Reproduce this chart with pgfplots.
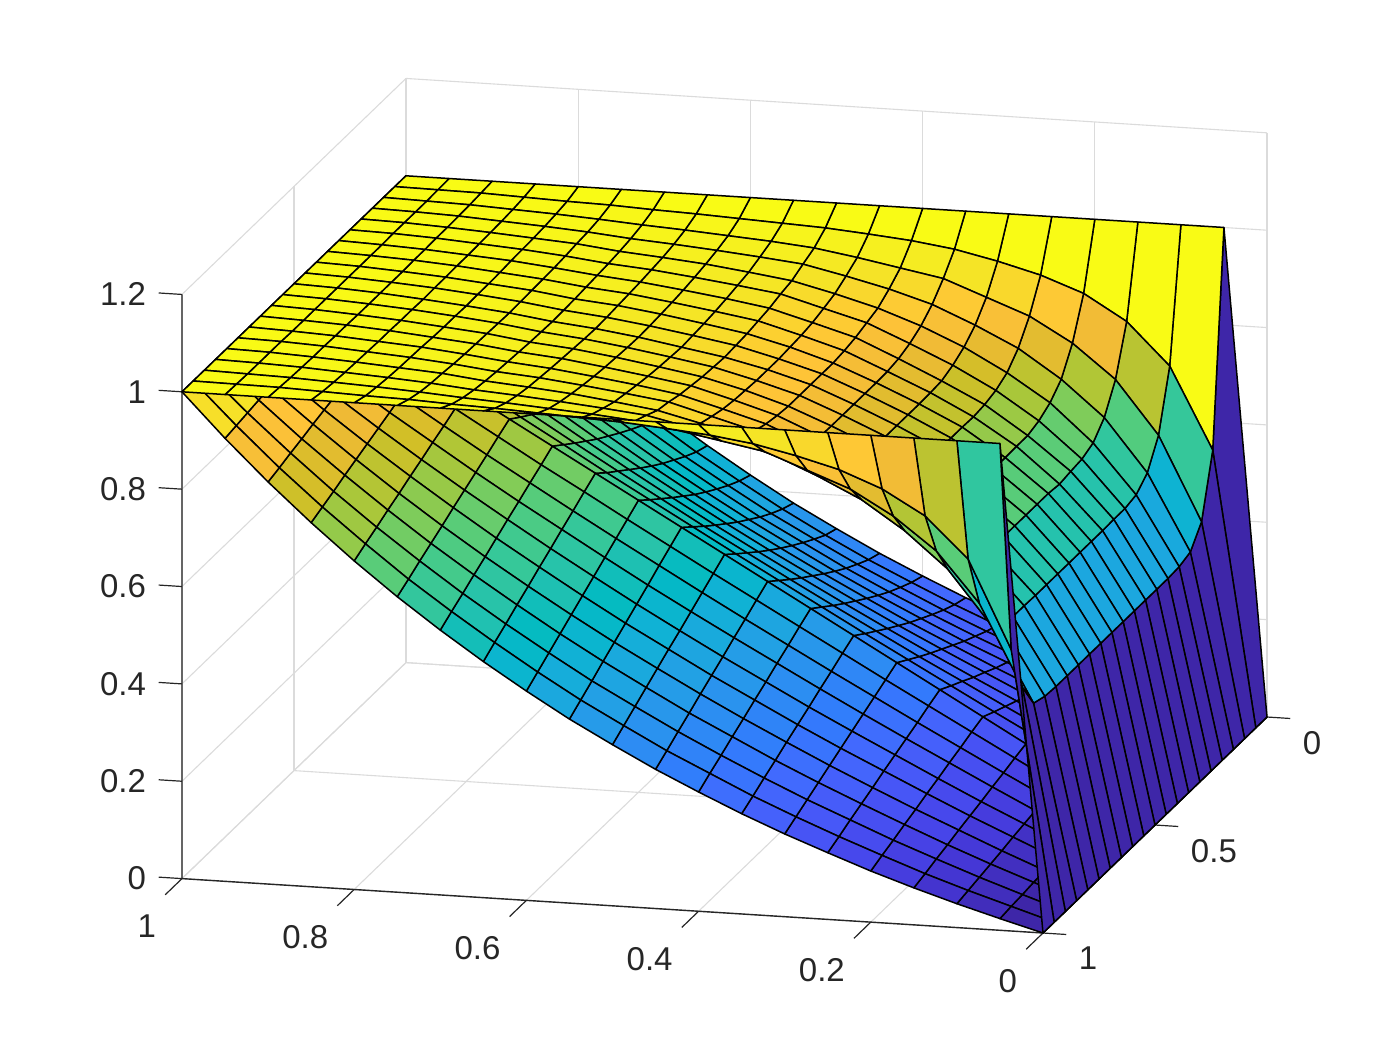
\documentclass[border=0pt]{standalone}
\usepackage{pgfplots}
\usepackage{fontspec}
\setmainfont{Liberation Sans}
\pgfplotsset{compat=1.18}
\definecolor{ax}{rgb}{0.15,0.15,0.15}
\pgfplotsset{colormap={parulam}{
rgb(1pt)=(.2422,.1504,.6603) rgb(5pt)=(.2706,.2147,.8364) rgb(8pt)=(.2803,.2782,.9221) rgb(11pt)=(.2795,.3447,.9717) rgb(14pt)=(.2602,.4123,.9952) rgb(17pt)=(.1963,.4847,.9892) rgb(20pt)=(.1764,.5499,.9520) rgb(24pt)=(.1380,.6276,.8973) rgb(28pt)=(.0689,.6948,.8394) rgb(31pt)=(.0067,.7312,.7660) rgb(34pt)=(.1408,.7584,.6842) rgb(37pt)=(.2161,.7843,.5923) rgb(40pt)=(.3406,.8008,.4789) rgb(43pt)=(.5044,.7993,.3480) rgb(46pt)=(.6720,.7793,.2227) rgb(49pt)=(.8203,.7498,.1535) rgb(52pt)=(.9393,.7288,.2100) rgb(55pt)=(.9970,.7659,.2199) rgb(57pt)=(.9892,.8164,.1884) rgb(59pt)=(.9610,.8890,.1537) rgb(61pt)=(.9628,.9373,.1265) rgb(64pt)=(.9769,.9839,.0805)}}
\begin{document}
\begin{tikzpicture}
\path[use as bounding box] (-633.5pt,-166.5pt) rectangle (66.5pt,358.5pt);
\begin{axis}[at={(0,0)},anchor=origin,clip=false,
x={(-430.5pt,27.2pt)},y={(-112pt,-108pt)},z={(0pt,243.4pt)},
xmin=0,xmax=1,ymin=0,ymax=1,zmin=0,zmax=1.2,
xtick={0,.2,.4,.6,.8,1},ytick={0,.5,1},ztick={0,.2,.4,.6,.8,1,1.2},
xticklabels={0,0.2,0.4,0.6,0.8,1},yticklabels={0,0.5,1},zticklabels={0,0.2,0.4,0.6,0.8,1,1.2},
grid=major,grid style={black!14,line width=.55pt},
axis line style={draw=none},
tick style={draw=none},major tick length=0pt,
ticklabel style={font=\fontsize{16.5pt}{18pt}\selectfont,text=ax,inner sep=0pt,outer sep=0pt},
xticklabel style={anchor=north east,xshift=-13pt,yshift=-18pt},
yticklabel style={anchor=north west,xshift=18pt,yshift=-7pt},
zticklabel style={anchor=east,xshift=-18pt},
point meta min=0,point meta max=1,colormap name=parulam,
every axis plot/.append style={line width=.75pt,line join=round},
]
\addplot3[ax,line width=.7pt] coordinates {(1,1,1.2)(1,1,0)(0,1,0)(0,0,0)};
\draw[ax,line width=.6pt] (axis cs:1,1,0)--(axis cs:1,1.075,0) (axis cs:.8,1,0)--(axis cs:.8,1.075,0) (axis cs:.6,1,0)--(axis cs:.6,1.075,0) (axis cs:.4,1,0)--(axis cs:.4,1.075,0) (axis cs:.2,1,0)--(axis cs:.2,1.075,0) (axis cs:0,1,0)--(axis cs:0,1.075,0);
\draw[ax,line width=.6pt] (axis cs:0,0,0)--(axis cs:-.027,0,0) (axis cs:0,.5,0)--(axis cs:-.027,.5,0) (axis cs:0,1,0)--(axis cs:-.027,1,0);
\draw[ax,line width=.6pt] (axis cs:1,1,0)--(axis cs:1.027,1,0) (axis cs:1,1,.2)--(axis cs:1.027,1,.2) (axis cs:1,1,.4)--(axis cs:1.027,1,.4) (axis cs:1,1,.6)--(axis cs:1.027,1,.6) (axis cs:1,1,.8)--(axis cs:1.027,1,.8) (axis cs:1,1,1)--(axis cs:1.027,1,1) (axis cs:1,1,1.2)--(axis cs:1.027,1,1.2);
% lower sheet, rows y=0 to y=1
\addplot3[surf,shader=flat corner,draw=black,z buffer=none,mesh/rows=21,mesh/cols=21] coordinates {
(0,0,0)(.05,0,.024)(.1,0,.049)(.15,0,.076)(.2,0,.105)(.25,0,.137)(.3,0,.17)(.35,0,.206)(.4,0,.245)(.45,0,.286)(.5,0,.331)(.55,0,.378)(.6,0,.43)(.65,0,.485)(.7,0,.544)(.75,0,.607)(.8,0,.675)(.85,0,.748)(.9,0,.826)(.95,0,.91)(1,0,1)
(0,.05,0)(.05,.05,.025)(.1,.05,.052)(.15,.05,.08)(.2,.05,.11)(.25,.05,.143)(.3,.05,.177)(.35,.05,.214)(.4,.05,.254)(.45,.05,.295)(.5,.05,.34)(.55,.05,.388)(.6,.05,.44)(.65,.05,.494)(.7,.05,.553)(.75,.05,.615)(.8,.05,.682)(.85,.05,.754)(.9,.05,.83)(.95,.05,.912)(1,.05,1)
(0,.1,0)(.05,.1,.027)(.1,.1,.056)(.15,.1,.086)(.2,.1,.118)(.25,.1,.152)(.3,.1,.187)(.35,.1,.225)(.4,.1,.266)(.45,.1,.308)(.5,.1,.354)(.55,.1,.401)(.6,.1,.453)(.65,.1,.507)(.7,.1,.565)(.75,.1,.626)(.8,.1,.692)(.85,.1,.762)(.9,.1,.836)(.95,.1,.915)(1,.1,1)
(0,.15,0)(.05,.15,.03)(.1,.15,.06)(.15,.15,.092)(.2,.15,.126)(.25,.15,.162)(.3,.15,.199)(.35,.15,.238)(.4,.15,.279)(.45,.15,.322)(.5,.15,.369)(.55,.15,.416)(.6,.15,.468)(.65,.15,.522)(.7,.15,.579)(.75,.15,.639)(.8,.15,.703)(.85,.15,.771)(.9,.15,.842)(.95,.15,.919)(1,.15,1)
(0,.2,0)(.05,.2,.032)(.1,.2,.065)(.15,.2,.1)(.2,.2,.135)(.25,.2,.173)(.3,.2,.211)(.35,.2,.252)(.4,.2,.294)(.45,.2,.338)(.5,.2,.385)(.55,.2,.433)(.6,.2,.484)(.65,.2,.537)(.7,.2,.594)(.75,.2,.652)(.8,.2,.715)(.85,.2,.78)(.9,.2,.85)(.95,.2,.923)(1,.2,1)
(0,.25,0)(.05,.25,.035)(.1,.25,.07)(.15,.25,.107)(.2,.25,.145)(.25,.25,.184)(.3,.25,.225)(.35,.25,.266)(.4,.25,.31)(.45,.25,.355)(.5,.25,.402)(.55,.25,.45)(.6,.25,.501)(.65,.25,.554)(.7,.25,.61)(.75,.25,.667)(.8,.25,.728)(.85,.25,.791)(.9,.25,.857)(.95,.25,.927)(1,.25,1)
(0,.3,0)(.05,.3,.038)(.1,.3,.076)(.15,.3,.115)(.2,.3,.155)(.25,.3,.197)(.3,.3,.239)(.35,.3,.282)(.4,.3,.327)(.45,.3,.373)(.5,.3,.42)(.55,.3,.469)(.6,.3,.52)(.65,.3,.572)(.7,.3,.626)(.75,.3,.683)(.8,.3,.741)(.85,.3,.802)(.9,.3,.865)(.95,.3,.931)(1,.3,1)
(0,.35,0)(.05,.35,.041)(.1,.35,.082)(.15,.35,.123)(.2,.35,.166)(.25,.35,.209)(.3,.35,.253)(.35,.35,.298)(.4,.35,.344)(.45,.35,.391)(.5,.35,.439)(.55,.35,.488)(.6,.35,.539)(.65,.35,.591)(.7,.35,.644)(.75,.35,.699)(.8,.35,.755)(.85,.35,.813)(.9,.35,.873)(.95,.35,.936)(1,.35,1)
(0,.4,0)(.05,.4,.044)(.1,.4,.088)(.15,.4,.132)(.2,.4,.177)(.25,.4,.223)(.3,.4,.268)(.35,.4,.315)(.4,.4,.362)(.45,.4,.41)(.5,.4,.459)(.55,.4,.508)(.6,.4,.559)(.65,.4,.61)(.7,.4,.662)(.75,.4,.715)(.8,.4,.77)(.85,.4,.825)(.9,.4,.882)(.95,.4,.94)(1,.4,1)
(0,.45,0)(.05,.45,.047)(.1,.45,.094)(.15,.45,.141)(.2,.45,.188)(.25,.45,.236)(.3,.45,.284)(.35,.45,.332)(.4,.45,.381)(.45,.45,.43)(.5,.45,.479)(.55,.45,.529)(.6,.45,.579)(.65,.45,.629)(.7,.45,.681)(.75,.45,.732)(.8,.45,.785)(.85,.45,.837)(.9,.45,.891)(.95,.45,.945)(1,.45,1)
(0,.5,0)(.05,.5,.05)(.1,.5,.1)(.15,.5,.15)(.2,.5,.2)(.25,.5,.25)(.3,.5,.3)(.35,.5,.35)(.4,.5,.4)(.45,.5,.45)(.5,.5,.5)(.55,.5,.55)(.6,.5,.6)(.65,.5,.65)(.7,.5,.7)(.75,.5,.75)(.8,.5,.8)(.85,.5,.85)(.9,.5,.9)(.95,.5,.95)(1,.5,1)
(0,.55,0)(.05,.55,.047)(.1,.55,.095)(.15,.55,.143)(.2,.55,.191)(.25,.55,.239)(.3,.55,.287)(.35,.55,.336)(.4,.55,.385)(.45,.55,.434)(.5,.55,.483)(.55,.55,.533)(.6,.55,.583)(.65,.55,.634)(.7,.55,.684)(.75,.55,.736)(.8,.55,.788)(.85,.55,.84)(.9,.55,.893)(.95,.55,.946)(1,.55,1)
(0,.6,0)(.05,.6,.045)(.1,.6,.09)(.15,.6,.135)(.2,.6,.181)(.25,.6,.227)(.3,.6,.274)(.35,.6,.321)(.4,.6,.369)(.45,.6,.417)(.5,.6,.466)(.55,.6,.516)(.6,.6,.566)(.65,.6,.617)(.7,.6,.669)(.75,.6,.721)(.8,.6,.775)(.85,.6,.83)(.9,.6,.885)(.95,.6,.942)(1,.6,1)
(0,.65,0)(.05,.65,.042)(.1,.65,.085)(.15,.65,.128)(.2,.65,.172)(.25,.65,.216)(.3,.65,.261)(.35,.65,.307)(.4,.65,.354)(.45,.65,.401)(.5,.65,.449)(.55,.65,.498)(.6,.65,.549)(.65,.65,.601)(.7,.65,.653)(.75,.65,.707)(.8,.65,.763)(.85,.65,.819)(.9,.65,.878)(.95,.65,.938)(1,.65,1)
(0,.7,0)(.05,.7,.04)(.1,.7,.08)(.15,.7,.12)(.2,.7,.162)(.25,.7,.205)(.3,.7,.248)(.35,.7,.292)(.4,.7,.338)(.45,.7,.384)(.5,.7,.432)(.55,.7,.481)(.6,.7,.532)(.65,.7,.584)(.7,.7,.638)(.75,.7,.693)(.8,.7,.75)(.85,.7,.809)(.9,.7,.87)(.95,.7,.934)(1,.7,1)
(0,.75,0)(.05,.75,.037)(.1,.75,.075)(.15,.75,.113)(.2,.75,.153)(.25,.75,.194)(.3,.75,.235)(.35,.75,.278)(.4,.75,.323)(.45,.75,.368)(.5,.75,.416)(.55,.75,.464)(.6,.75,.515)(.65,.75,.568)(.7,.75,.622)(.75,.75,.679)(.8,.75,.738)(.85,.75,.799)(.9,.75,.863)(.95,.75,.93)(1,.75,1)
(0,.8,0)(.05,.8,.034)(.1,.8,.069)(.15,.8,.106)(.2,.8,.143)(.25,.8,.182)(.3,.8,.222)(.35,.8,.264)(.4,.8,.307)(.45,.8,.352)(.5,.8,.399)(.55,.8,.447)(.6,.8,.498)(.65,.8,.551)(.7,.8,.606)(.75,.8,.664)(.8,.8,.725)(.85,.8,.789)(.9,.8,.856)(.95,.8,.926)(1,.8,1)
(0,.85,0)(.05,.85,.032)(.1,.85,.064)(.15,.85,.098)(.2,.85,.134)(.25,.85,.171)(.3,.85,.209)(.35,.85,.249)(.4,.85,.292)(.45,.85,.335)(.5,.85,.382)(.55,.85,.43)(.6,.85,.481)(.65,.85,.535)(.7,.85,.591)(.75,.85,.65)(.8,.85,.713)(.85,.85,.779)(.9,.85,.848)(.95,.85,.922)(1,.85,1)
(0,.9,0)(.05,.9,.029)(.1,.9,.059)(.15,.9,.091)(.2,.9,.124)(.25,.9,.16)(.3,.9,.196)(.35,.9,.235)(.4,.9,.276)(.45,.9,.319)(.5,.9,.365)(.55,.9,.412)(.6,.9,.464)(.65,.9,.518)(.7,.9,.575)(.75,.9,.636)(.8,.9,.7)(.85,.9,.768)(.9,.9,.841)(.95,.9,.918)(1,.9,1)
(0,.95,0)(.05,.95,.027)(.1,.95,.054)(.15,.95,.083)(.2,.95,.115)(.25,.95,.148)(.3,.95,.183)(.35,.95,.22)(.4,.95,.261)(.45,.95,.302)(.5,.95,.348)(.55,.95,.395)(.6,.95,.447)(.65,.95,.502)(.7,.95,.56)(.75,.95,.621)(.8,.95,.688)(.85,.95,.758)(.9,.95,.833)(.95,.95,.914)(1,.95,1)
(0,1,0)(.05,1,.024)(.1,1,.049)(.15,1,.076)(.2,1,.105)(.25,1,.137)(.3,1,.17)(.35,1,.206)(.4,1,.245)(.45,1,.286)(.5,1,.331)(.55,1,.378)(.6,1,.43)(.65,1,.485)(.7,1,.544)(.75,1,.607)(.8,1,.675)(.85,1,.748)(.9,1,.826)(.95,1,.91)(1,1,1)
};
% upper sheet, rows y=0 to y=1
\addplot3[surf,shader=flat corner,draw=black,z buffer=none,mesh/rows=21,mesh/cols=21] coordinates {
(0,0,0)(.05,0,1)(.1,0,1)(.15,0,1)(.2,0,1)(.25,0,1)(.3,0,1)(.35,0,1)(.4,0,1)(.45,0,1)(.5,0,1)(.55,0,1)(.6,0,1)(.65,0,1)(.7,0,1)(.75,0,1)(.8,0,1)(.85,0,1)(.9,0,1)(.95,0,1)(1,0,1)
(0,.05,0)(.05,.05,.565)(.1,.05,.732)(.15,.05,.818)(.2,.05,.87)(.25,.05,.902)(.3,.05,.925)(.35,.05,.944)(.4,.05,.956)(.45,.05,.964)(.5,.05,.971)(.55,.05,.975)(.6,.05,.979)(.65,.05,.983)(.7,.05,.986)(.75,.05,.99)(.8,.05,.992)(.85,.05,.995)(.9,.05,.998)(.95,.05,.999)(1,.05,1)
(0,.1,0)(.05,.1,.44)(.1,.1,.612)(.15,.1,.721)(.2,.1,.79)(.25,.1,.84)(.3,.1,.873)(.35,.1,.906)(.4,.1,.922)(.45,.1,.938)(.5,.1,.952)(.55,.1,.96)(.6,.1,.966)(.65,.1,.972)(.7,.1,.977)(.75,.1,.983)(.8,.1,.988)(.85,.1,.992)(.9,.1,.996)(.95,.1,.998)(1,.1,1)
(0,.15,0)(.05,.15,.4)(.1,.15,.557)(.15,.15,.665)(.2,.15,.738)(.25,.15,.796)(.3,.15,.838)(.35,.15,.875)(.4,.15,.901)(.45,.15,.922)(.5,.15,.941)(.55,.15,.95)(.6,.15,.958)(.65,.15,.965)(.7,.15,.971)(.75,.15,.979)(.8,.15,.985)(.85,.15,.99)(.9,.15,.995)(.95,.15,.998)(1,.15,1)
(0,.2,0)(.05,.2,.392)(.1,.2,.534)(.15,.2,.635)(.2,.2,.712)(.25,.2,.768)(.3,.2,.815)(.35,.2,.853)(.4,.2,.884)(.45,.2,.908)(.5,.2,.929)(.55,.2,.941)(.6,.2,.952)(.65,.2,.96)(.7,.2,.967)(.75,.2,.977)(.8,.2,.983)(.85,.2,.989)(.9,.2,.994)(.95,.2,.998)(1,.2,1)
(0,.25,0)(.05,.25,.39)(.1,.25,.528)(.15,.25,.624)(.2,.25,.697)(.25,.25,.754)(.3,.25,.8)(.35,.25,.839)(.4,.25,.876)(.45,.25,.9)(.5,.25,.924)(.55,.25,.936)(.6,.25,.947)(.65,.25,.957)(.7,.25,.964)(.75,.25,.974)(.8,.25,.982)(.85,.25,.988)(.9,.25,.994)(.95,.25,.998)(1,.25,1)
(0,.3,0)(.05,.3,.39)(.1,.3,.528)(.15,.3,.621)(.2,.3,.689)(.25,.3,.747)(.3,.3,.79)(.35,.3,.83)(.4,.3,.868)(.45,.3,.893)(.5,.3,.917)(.55,.3,.931)(.6,.3,.943)(.65,.3,.954)(.7,.3,.962)(.75,.3,.972)(.8,.3,.981)(.85,.3,.987)(.9,.3,.993)(.95,.3,.997)(1,.3,1)
(0,.35,0)(.05,.35,.39)(.1,.35,.527)(.15,.35,.617)(.2,.35,.689)(.25,.35,.744)(.3,.35,.788)(.35,.35,.826)(.4,.35,.863)(.45,.35,.889)(.5,.35,.913)(.55,.35,.927)(.6,.35,.94)(.65,.35,.952)(.7,.35,.96)(.75,.35,.971)(.8,.35,.979)(.85,.35,.987)(.9,.35,.993)(.95,.35,.997)(1,.35,1)
(0,.4,0)(.05,.4,.39)(.1,.4,.527)(.15,.4,.62)(.2,.4,.688)(.25,.4,.745)(.3,.4,.787)(.35,.4,.825)(.4,.4,.86)(.45,.4,.887)(.5,.4,.909)(.55,.4,.924)(.6,.4,.938)(.65,.4,.95)(.7,.4,.958)(.75,.4,.97)(.8,.4,.978)(.85,.4,.986)(.9,.4,.992)(.95,.4,.997)(1,.4,1)
(0,.45,0)(.05,.45,.39)(.1,.45,.527)(.15,.45,.62)(.2,.45,.688)(.25,.45,.745)(.3,.45,.787)(.35,.45,.825)(.4,.45,.86)(.45,.45,.885)(.5,.45,.907)(.55,.45,.922)(.6,.45,.936)(.65,.45,.948)(.7,.45,.957)(.75,.45,.969)(.8,.45,.978)(.85,.45,.986)(.9,.45,.992)(.95,.45,.997)(1,.45,1)
(0,.5,0)(.05,.5,.39)(.1,.5,.527)(.15,.5,.62)(.2,.5,.688)(.25,.5,.745)(.3,.5,.787)(.35,.5,.825)(.4,.5,.86)(.45,.5,.885)(.5,.5,.905)(.55,.5,.92)(.6,.5,.935)(.65,.5,.947)(.7,.5,.956)(.75,.5,.968)(.8,.5,.977)(.85,.5,.985)(.9,.5,.992)(.95,.5,.997)(1,.5,1)
(0,.55,0)(.05,.55,.39)(.1,.55,.527)(.15,.55,.62)(.2,.55,.688)(.25,.55,.745)(.3,.55,.787)(.35,.55,.825)(.4,.55,.86)(.45,.55,.885)(.5,.55,.907)(.55,.55,.922)(.6,.55,.936)(.65,.55,.948)(.7,.55,.957)(.75,.55,.969)(.8,.55,.978)(.85,.55,.986)(.9,.55,.992)(.95,.55,.997)(1,.55,1)
(0,.6,0)(.05,.6,.39)(.1,.6,.527)(.15,.6,.62)(.2,.6,.688)(.25,.6,.745)(.3,.6,.787)(.35,.6,.825)(.4,.6,.86)(.45,.6,.887)(.5,.6,.909)(.55,.6,.924)(.6,.6,.938)(.65,.6,.95)(.7,.6,.958)(.75,.6,.97)(.8,.6,.978)(.85,.6,.986)(.9,.6,.992)(.95,.6,.997)(1,.6,1)
(0,.65,0)(.05,.65,.39)(.1,.65,.527)(.15,.65,.617)(.2,.65,.689)(.25,.65,.744)(.3,.65,.788)(.35,.65,.826)(.4,.65,.863)(.45,.65,.889)(.5,.65,.913)(.55,.65,.927)(.6,.65,.94)(.65,.65,.952)(.7,.65,.96)(.75,.65,.971)(.8,.65,.979)(.85,.65,.987)(.9,.65,.993)(.95,.65,.997)(1,.65,1)
(0,.7,0)(.05,.7,.39)(.1,.7,.528)(.15,.7,.621)(.2,.7,.689)(.25,.7,.747)(.3,.7,.79)(.35,.7,.83)(.4,.7,.868)(.45,.7,.893)(.5,.7,.917)(.55,.7,.931)(.6,.7,.943)(.65,.7,.954)(.7,.7,.962)(.75,.7,.972)(.8,.7,.981)(.85,.7,.987)(.9,.7,.993)(.95,.7,.997)(1,.7,1)
(0,.75,0)(.05,.75,.39)(.1,.75,.528)(.15,.75,.624)(.2,.75,.697)(.25,.75,.754)(.3,.75,.8)(.35,.75,.839)(.4,.75,.876)(.45,.75,.9)(.5,.75,.924)(.55,.75,.936)(.6,.75,.947)(.65,.75,.957)(.7,.75,.964)(.75,.75,.974)(.8,.75,.982)(.85,.75,.988)(.9,.75,.994)(.95,.75,.998)(1,.75,1)
(0,.8,0)(.05,.8,.392)(.1,.8,.534)(.15,.8,.635)(.2,.8,.712)(.25,.8,.768)(.3,.8,.815)(.35,.8,.853)(.4,.8,.884)(.45,.8,.908)(.5,.8,.929)(.55,.8,.941)(.6,.8,.952)(.65,.8,.96)(.7,.8,.967)(.75,.8,.977)(.8,.8,.983)(.85,.8,.989)(.9,.8,.994)(.95,.8,.998)(1,.8,1)
(0,.85,0)(.05,.85,.4)(.1,.85,.557)(.15,.85,.665)(.2,.85,.738)(.25,.85,.796)(.3,.85,.838)(.35,.85,.875)(.4,.85,.901)(.45,.85,.922)(.5,.85,.941)(.55,.85,.95)(.6,.85,.958)(.65,.85,.965)(.7,.85,.971)(.75,.85,.979)(.8,.85,.985)(.85,.85,.99)(.9,.85,.995)(.95,.85,.998)(1,.85,1)
(0,.9,0)(.05,.9,.455)(.1,.9,.622)(.15,.9,.724)(.2,.9,.79)(.25,.9,.84)(.3,.9,.873)(.35,.9,.906)(.4,.9,.922)(.45,.9,.938)(.5,.9,.952)(.55,.9,.96)(.6,.9,.966)(.65,.9,.972)(.7,.9,.977)(.75,.9,.983)(.8,.9,.988)(.85,.9,.992)(.9,.9,.996)(.95,.9,.998)(1,.9,1)
(0,.95,0)(.05,.95,.555)(.1,.95,.735)(.15,.95,.818)(.2,.95,.868)(.25,.95,.902)(.3,.95,.925)(.35,.95,.944)(.4,.95,.956)(.45,.95,.964)(.5,.95,.971)(.55,.95,.975)(.6,.95,.979)(.65,.95,.983)(.7,.95,.986)(.75,.95,.99)(.8,.95,.992)(.85,.95,.995)(.9,.95,.998)(.95,.95,.999)(1,.95,1)
(0,1,0)(.05,1,1)(.1,1,1)(.15,1,1)(.2,1,1)(.25,1,1)(.3,1,1)(.35,1,1)(.4,1,1)(.45,1,1)(.5,1,1)(.55,1,1)(.6,1,1)(.65,1,1)(.7,1,1)(.75,1,1)(.8,1,1)(.85,1,1)(.9,1,1)(.95,1,1)(1,1,1)
};
\end{axis}
\end{tikzpicture}
\end{document}
